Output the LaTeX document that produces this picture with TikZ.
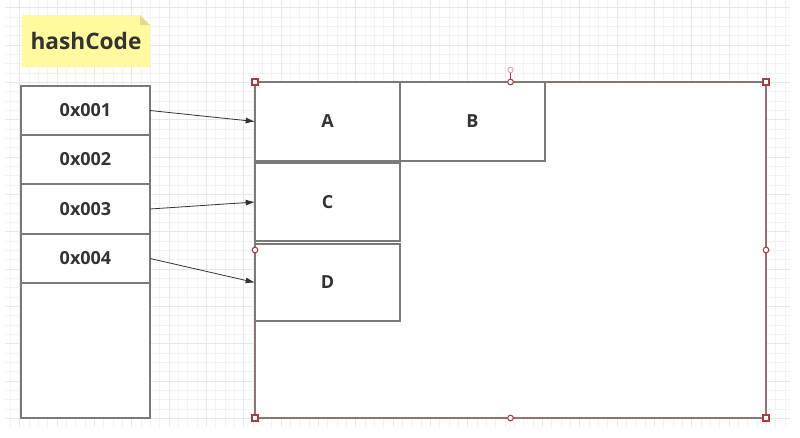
\documentclass[tikz,border=0pt]{standalone}
\usepackage{fontspec}
\setmainfont{Open Sans}
\usepackage{xcolor}
\usetikzlibrary{arrows.meta}
\definecolor{gridminor}{HTML}{F3F3F3}
\definecolor{gridmajor}{HTML}{E8E8E8}
\definecolor{boxline}{HTML}{7A7A7A}
\definecolor{txtgray}{HTML}{333333}
\definecolor{noteyellow}{HTML}{FFFA9E}
\definecolor{notefold}{HTML}{E2DC86}
\definecolor{selline}{HTML}{8E7474}
\definecolor{handlered}{HTML}{B0393B}

\begin{document}
\begin{tikzpicture}[x=0.75pt,y=-0.75pt,
	cell/.style={draw=boxline, line width=1.1pt, fill=white, inner sep=0pt, outer sep=0pt,
		minimum width=96.75pt, minimum height=36.75pt, font=\bfseries\fontsize{13.5}{16}\selectfont, text=txtgray},
	slot/.style={draw=boxline, line width=1.1pt, fill=white, inner sep=0pt, outer sep=0pt,
		minimum width=108.75pt, font=\bfseries\fontsize{13.5}{16}\selectfont, text=txtgray},
	link/.style={draw=txtgray, line width=0.6pt, -{Latex[length=7pt,width=4.5pt]}},
	corner/.style={draw=handlered, fill=white, line width=0.8pt},
]
	\useasboundingbox (0,0) rectangle (800,437);
	% background grid
	\begin{scope}
		\clip (5,0) rectangle (790,426);
		\foreach \i in {0,...,84} {
			\draw[gridminor, line width=0.5pt] (1+\i*9.333,0) -- (1+\i*9.333,437);
		}
		\foreach \i in {0,...,46} {
			\draw[gridminor, line width=0.5pt] (0,7.7+\i*9.333) -- (800,7.7+\i*9.333);
		}
		\foreach \i in {0,...,21} {
			\draw[gridmajor, line width=0.6pt] (19.67+\i*37.33,0) -- (19.67+\i*37.33,437);
		}
		\foreach \i in {0,...,11} {
			\draw[gridmajor, line width=0.6pt] (0,7.7+\i*37.33) -- (800,7.7+\i*37.33);
		}
	\end{scope}
	% note
	\fill[noteyellow] (22,15) -- (140,15) -- (150,25) -- (150,67) -- (22,67) -- cycle;
	\fill[notefold] (140,15) -- (150,25) -- (140,25) -- cycle;
	\node (note) at (86,41) [font=\bfseries\fontsize{17}{20}\selectfont, text=txtgray] {hashCode};
	% hash table
	\node (h1) at (85.5,110.5) [cell] {0x001};
	\node (h2) at (85.5,159.5) [cell] {0x002};
	\node (h3) at (85.5,209) [cell] {0x003};
	\node (h4) at (85.5,258.5) [cell] {0x004};
	\node (h5) at (85.5,350.5) [cell, minimum height=101.25pt] {};
	% memory area
	\node (mem) at (510.5,250) [draw=selline, line width=1pt, fill=white, inner sep=0pt, outer sep=0pt,
		minimum width=383.25pt, minimum height=252pt] {};
	\node (A) at (327.5,121.5) [slot, minimum height=59.25pt] {A};
	\node (B) at (472.5,121.5) [slot, minimum height=59.25pt] {B};
	\node (C) at (327.5,202) [slot, minimum height=58.5pt] {C};
	\node (D) at (327.5,282.5) [slot, minimum height=57.75pt] {D};
	\draw[link] (h1.east) -- (A.west);
	\draw[link] (h3.east) -- (C.west);
	\draw[link] (h4.east) -- (D.west);
	% selection handles
	\draw[handlered, line width=0.6pt] (mem.north) -- ++(0,-11);
	\draw[handlered!50, fill=white, line width=0.6pt] (mem.north) ++(0,-12) circle (2.7);
	\foreach \a in {north west,north east,south west,south east} {
		\draw[corner] (mem.\a) ++(-3,-3) rectangle ++(6,6);
	}
	\foreach \a in {north,south,west,east} {
		\draw[corner] (mem.\a) circle (2.8);
	}
\end{tikzpicture}
\end{document}
